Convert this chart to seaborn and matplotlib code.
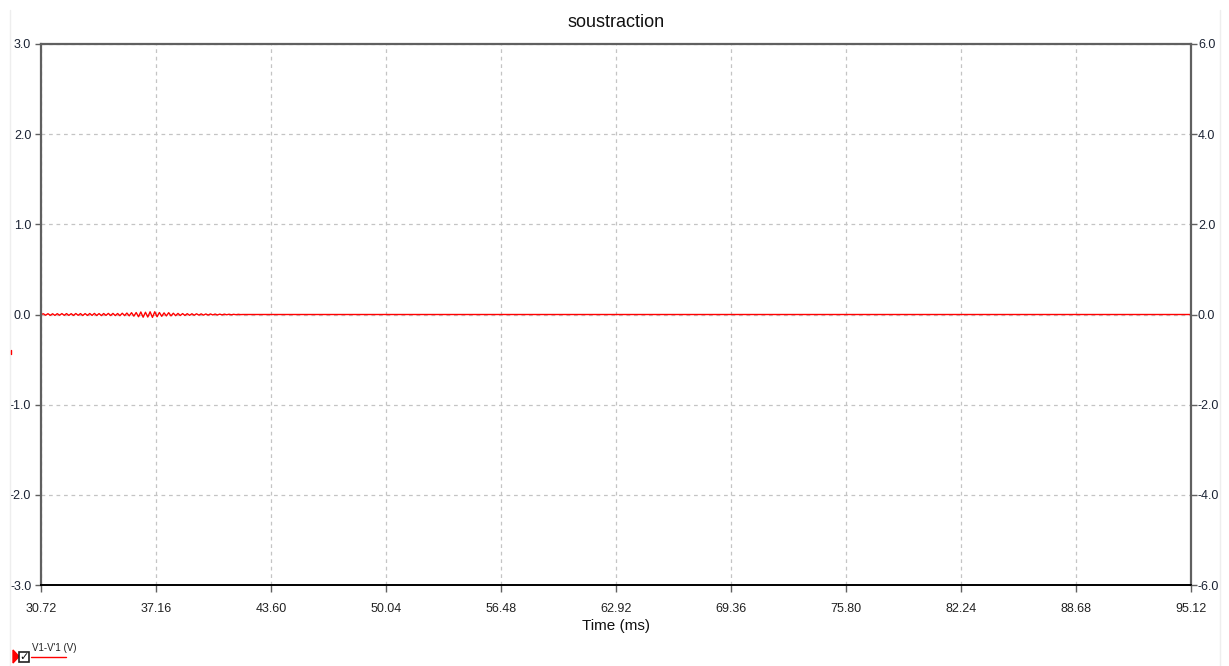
import numpy as np
import pandas as pd
import matplotlib
matplotlib.use("Agg")
import matplotlib.pyplot as plt
import seaborn as sns
from matplotlib.lines import Line2D
from matplotlib.patches import Rectangle, Polygon

# ---- data ----
# ripple segment (ms, V)
t_ripple = [30.72, 30.85, 30.98, 31.11, 31.24, 31.37, 31.50, 31.63, 31.76, 31.89,
            32.02, 32.15, 32.28, 32.41, 32.54, 32.67, 32.80, 32.93, 33.06, 33.19,
            33.32, 33.45, 33.58, 33.71, 33.84, 33.97, 34.10, 34.23, 34.36, 34.49,
            34.62, 34.75, 34.88, 35.01, 35.14, 35.27, 35.40, 35.53, 35.66, 35.79,
            35.92, 36.05, 36.18, 36.31, 36.44, 36.57, 36.70, 36.83, 36.96, 37.09,
            37.22, 37.35, 37.48, 37.61, 37.74, 37.87, 38.00, 38.13, 38.26, 38.39,
            38.52, 38.65, 38.78, 38.91, 39.04, 39.17, 39.30, 39.43, 39.56, 39.69,
            39.82, 39.95, 40.08, 40.21, 40.34, 40.47, 40.60, 40.73, 40.86, 40.99,
            41.12, 41.25, 41.38, 41.51, 41.64, 41.77, 41.90, 42.03]
v_ripple = [0.000, 0.008, -0.008, 0.009, -0.009, 0.008, -0.010, 0.009, -0.008, 0.010,
            -0.009, 0.010, -0.010, 0.009, -0.010, 0.011, -0.009, 0.010, -0.011, 0.010,
            -0.010, 0.011, -0.010, 0.012, -0.011, 0.010, -0.012, 0.011, -0.010, 0.012,
            -0.011, 0.012, -0.012, 0.011, -0.013, 0.014, -0.012, 0.016, -0.015, 0.020,
            -0.018, 0.022, -0.025, 0.028, -0.030, 0.025, -0.028, 0.030, -0.032, 0.030,
            -0.025, 0.022, -0.020, 0.018, -0.016, 0.020, -0.015, 0.014, -0.013, 0.012,
            -0.011, 0.010, -0.010, 0.009, -0.009, 0.008, -0.008, 0.008, -0.007, 0.007,
            -0.007, 0.006, -0.006, 0.006, -0.005, 0.005, -0.005, 0.004, -0.004, 0.004,
            -0.003, 0.003, -0.003, 0.002, -0.002, 0.002, -0.001, 0.000]
# flat remainder
t_flat = [42.16, 50.04, 60.00, 70.00, 80.00, 90.00, 95.12]
v_flat = [0.0, 0.0, 0.0, 0.0, 0.0, 0.0, 0.0]

x_ticks = [30.72, 37.16, 43.60, 50.04, 56.48, 62.92, 69.36, 75.80, 82.24, 88.68, 95.12]
x_tick_labels = ["30.72", "37.16", "43.60", "50.04", "56.48", "62.92", "69.36",
                 "75.80", "82.24", "88.68", "95.12"]
y_left_ticks = [-3.0, -2.0, -1.0, 0.0, 1.0, 2.0, 3.0]
y_right_ticks = [-6.0, -4.0, -2.0, 0.0, 2.0, 4.0, 6.0]
series_name = "V1-V'1 (V)"
title = "soustraction"
xlabel = "Time (ms)"

df = pd.DataFrame({"t": t_ripple + t_flat, "v": v_ripple + v_flat})

# ---- style ----
sns.set_theme(style="white")
plt.rcParams["font.family"] = ["Liberation Sans", "DejaVu Sans"]

W, H = 1229, 666
fig = plt.figure(figsize=(W / 100, H / 100), dpi=100)
fig.patch.set_facecolor("white")
ax = fig.add_axes([41 / W, 1 - 585 / H, (1191 - 41) / W, (585 - 44) / H])

sns.lineplot(data=df, x="t", y="v", ax=ax, color="#ff0000", lw=1.0, estimator=None)

ax.set_xlim(30.72, 95.12)
ax.set_ylim(-3.0, 3.0)
ax.set_xticks(x_ticks)
ax.set_xticklabels(x_tick_labels)
ax.set_yticks(y_left_ticks)
ax.set_yticklabels([f"{v:.1f}" for v in y_left_ticks])
ax.grid(True, color="#c4c4c4", linestyle=(0, (3, 3)), linewidth=0.9)
ax.set_axisbelow(True)
ax.set_xlabel(xlabel, fontsize=11, color="#111111", labelpad=3)
ax.set_ylabel("")
ax.set_title(title, fontsize=13, color="#111111", pad=12)

for s in ["top", "left", "right"]:
    ax.spines[s].set_color("#606060")
    ax.spines[s].set_linewidth(1.6)
ax.spines["bottom"].set_color("#000000")
ax.spines["bottom"].set_linewidth(1.4)

ax.tick_params(axis="x", direction="out", length=5, width=1, color="#606060",
               labelsize=9, labelcolor="#222222", pad=8, bottom=True)
ax.tick_params(axis="y", direction="out", length=4, width=1, color="#606060",
               labelsize=9, labelcolor="#1a2233", pad=3, left=True)

ax2 = ax.twinx()
ax2.set_ylim(-6.0, 6.0)
ax2.set_yticks(y_right_ticks)
ax2.set_yticklabels([f"{v:.1f}" for v in y_right_ticks])
ax2.tick_params(axis="y", direction="out", length=4, width=1, color="#606060",
                labelsize=9, labelcolor="#1a2233", pad=1, right=True)
ax2.grid(False)
for s in ax2.spines.values():
    s.set_visible(False)

# window border lines
fig.add_artist(Line2D([10 / W, 10 / W], [0, 1 - 10 / H], color="#eeeeee", lw=1))
fig.add_artist(Line2D([1220 / W, 1220 / W], [0, 1 - 10 / H], color="#eeeeee", lw=1))
# small red cursor mark
fig.add_artist(Line2D([11 / W, 11 / W], [1 - 350 / H, 1 - 354 / H], color="#ff0000", lw=1))

# legend (checkbox + name + red underline)
fig.add_artist(Polygon([[13 / W, 1 - 650 / H], [13 / W, 1 - 663 / H], [19 / W, 1 - 656.5 / H]],
                       closed=True, color="#ff0000", transform=fig.transFigure))
fig.add_artist(Rectangle((19 / W, 1 - 662 / H), 10 / W, 10 / H, transform=fig.transFigure,
                         facecolor="white", edgecolor="#222222", lw=1.2))
fig.text(24 / W, 1 - 657 / H, "\u2713", ha="center", va="center", fontsize=8,
         color="#111111", family=["DejaVu Sans"], weight="bold")
fig.text(32 / W, 1 - 648 / H, series_name, ha="left", va="center", fontsize=7, color="#222222")
fig.add_artist(Line2D([31 / W, 66 / W], [1 - 657 / H, 1 - 657 / H], color="#ff0000", lw=1))

fig.savefig("out.png", dpi=100, facecolor="white")
